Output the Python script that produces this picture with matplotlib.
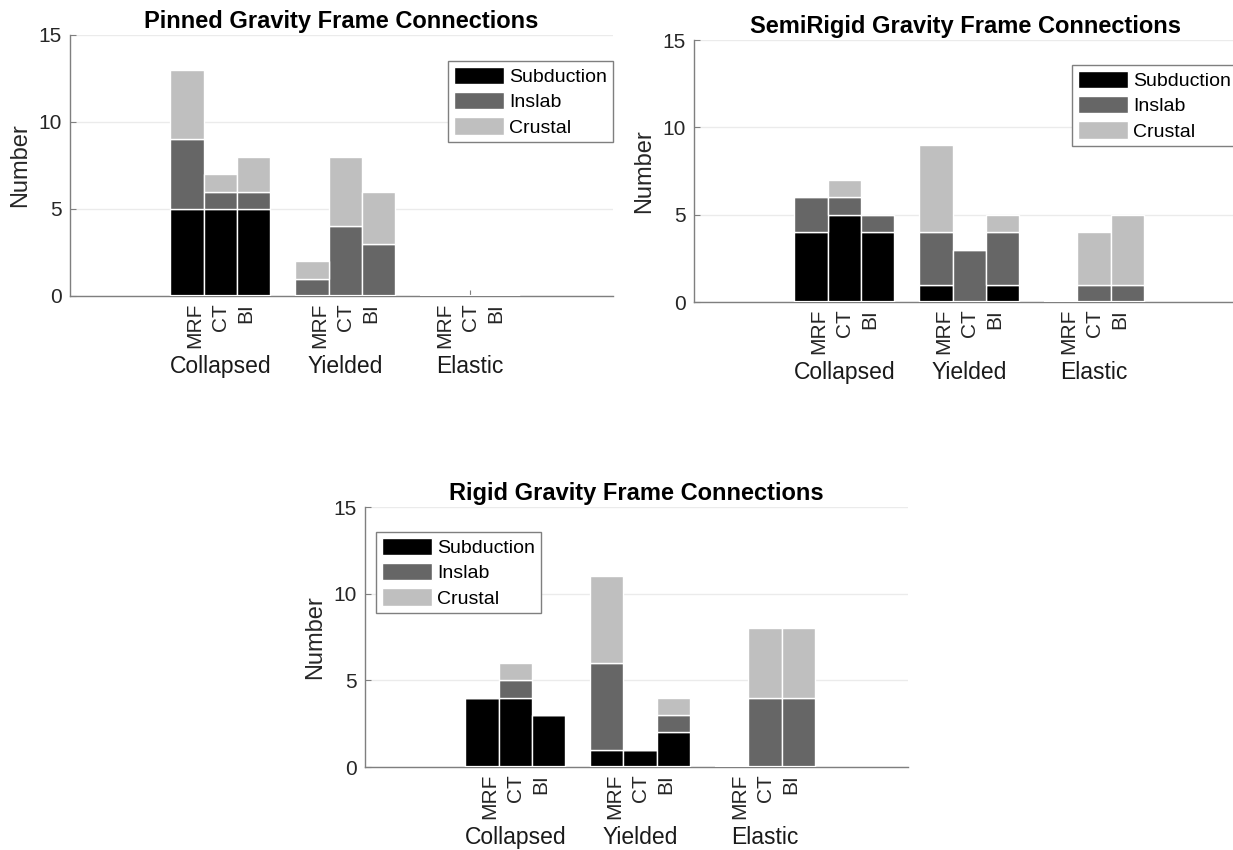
import matplotlib.pyplot as plt

plt.rcParams['font.family'] = ['Liberation Sans', 'DejaVu Sans']

categories = ['Collapsed', 'Yielded', 'Elastic']
systems = ['MRF', 'CT', 'BI']
sources = ['Subduction', 'Inslab', 'Crustal']
colors = ['#000000', '#666666', '#bfbfbf']

# values per bar: Collapsed MRF, CT, BI, Yielded MRF, CT, BI, Elastic MRF, CT, BI
pinned_subduction = [5, 5, 5, 0, 0, 0, 0, 0, 0]
pinned_inslab = [4, 1, 1, 1, 4, 3, 0, 0, 0]
pinned_crustal = [4, 1, 2, 1, 4, 3, 0, 0, 0]

semi_subduction = [4, 5, 4, 1, 0, 1, 0, 0, 0]
semi_inslab = [2, 1, 1, 3, 3, 3, 0, 1, 1]
semi_crustal = [0, 1, 0, 5, 0, 1, 0, 3, 4]

rigid_subduction = [4, 4, 3, 1, 1, 2, 0, 0, 0]
rigid_inslab = [0, 1, 0, 5, 0, 1, 0, 4, 4]
rigid_crustal = [0, 1, 0, 5, 0, 1, 0, 4, 4]

group_gap = 3.75
bar_w = 1.0
pos = [g * group_gap + i for g in range(len(categories)) for i in range(len(systems))]
centers = [g * group_gap + 1 for g in range(len(categories))]

fig = plt.figure(figsize=(12.33, 8.5), dpi=100)


def draw(rect, title, sub, ins, cru, legend_loc, legend_anchor):
    ax = fig.add_axes(rect)
    bottom = [0] * len(pos)
    for vals, name, col in zip([sub, ins, cru], sources, colors):
        ax.bar(pos, vals, width=bar_w, bottom=bottom, color=col, edgecolor='white',
               linewidth=1.0, label=name, zorder=3)
        bottom = [b + v for b, v in zip(bottom, vals)]
    # white bar bases hide the baseline under every bar (also empty ones)
    ax.hlines([0] * len(pos), [p - bar_w / 2 for p in pos], [p + bar_w / 2 for p in pos],
              color='white', linewidth=1.6, zorder=3)
    ax.set_xlim(-3.51, 12.79)
    ax.set_ylim(0, 15)
    ax.set_yticks([0, 5, 10, 15])
    ax.set_xticks(centers, ['\n'.join(systems)] * len(centers), rotation=90,
                  multialignment='right', linespacing=1.45)
    for c, cat in zip(centers, categories):
        ax.annotate(cat, xy=(c, 0), xycoords=('data', 'axes fraction'),
                    xytext=(0, -51), textcoords='offset points',
                    ha='center', va='center', fontsize=16.5, color='#1a1a1a')
    ax.tick_params(direction='in', length=4, width=0.8, color='#7f7f7f',
                   labelcolor='#262626', pad=5)
    ax.tick_params(axis='x', labelsize=15)
    ax.tick_params(axis='y', labelsize=15, pad=6)
    ax.spines['top'].set_visible(False)
    ax.spines['right'].set_visible(False)
    for s in ['left', 'bottom']:
        ax.spines[s].set_color('#7f7f7f')
        ax.spines[s].set_linewidth(1.0)
    ax.yaxis.grid(True, color='#ebebeb', linewidth=1.0)
    ax.set_axisbelow(True)
    ax.set_ylabel('Number', fontsize=17, color='#262626')
    ax.yaxis.set_label_coords(-0.072, 0.5)
    ax.set_title(title, fontsize=17, fontweight='bold', pad=5)
    ax.legend(loc=legend_loc, bbox_to_anchor=legend_anchor, borderaxespad=0,
              fontsize=14, handlelength=2.6, handleheight=1.0, labelspacing=0.3,
              handletextpad=0.25, borderpad=0.3, fancybox=False, framealpha=1,
              edgecolor='#7f7f7f')
    return ax


draw([0.0568, 0.6518, 0.4404, 0.3071], 'Pinned Gravity Frame Connections',
     pinned_subduction, pinned_inslab, pinned_crustal, 'upper right', (1.0, 0.90))
draw([0.5629, 0.6447, 0.4404, 0.3082], 'SemiRigid Gravity Frame Connections',
     semi_subduction, semi_inslab, semi_crustal, 'upper left', (0.696, 0.905))
draw([0.2960, 0.0976, 0.4404, 0.3059], 'Rigid Gravity Frame Connections',
     rigid_subduction, rigid_inslab, rigid_crustal, 'upper left', (0.02, 0.904))

fig.savefig('out.png', dpi=100)
